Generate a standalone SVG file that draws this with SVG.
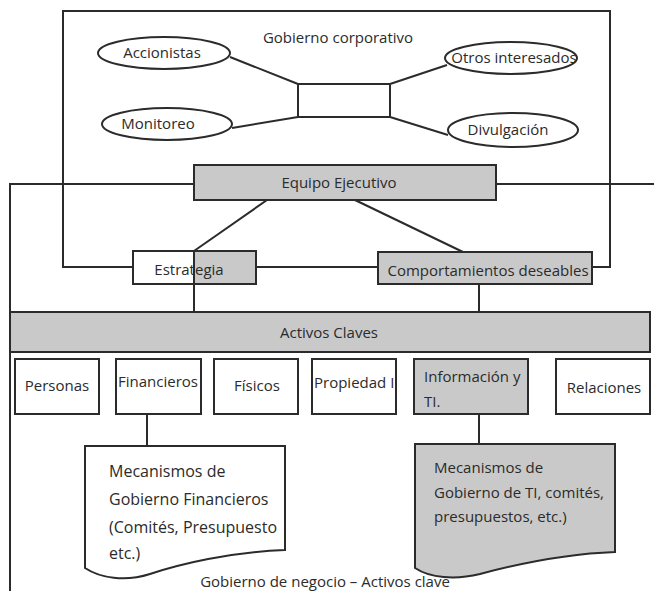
<svg xmlns="http://www.w3.org/2000/svg" width="654" height="591" viewBox="0 0 654 591">
<style>
.ln{fill:none;stroke:#2b2b2b;stroke-width:2}
.bx{fill:#fff;stroke:#2b2b2b;stroke-width:2}
.gb{fill:#c9c9c9;stroke:#2b2b2b;stroke-width:2}
text{font-family:"Open Sans","Liberation Sans",sans-serif;font-size:15px;fill:#2b2b2b}
.c{text-anchor:middle}
.d1{font-size:16px}
</style>
<defs>
<clipPath id="clipDoc1"><rect x="86" y="447" width="197" height="120"/></clipPath>
</defs>
<rect width="654" height="591" fill="#fff"/>
<g id="connectors">
<polyline class="ln" points="133,267 63,267 63,11 610,11 610,267 592,267"/>
<line class="ln" x1="256" y1="267" x2="378" y2="267"/>
<polyline class="ln" points="654,184 10,184 10,591"/>
<line class="ln" x1="230" y1="57" x2="298" y2="84"/>
<line class="ln" x1="232" y1="128" x2="298" y2="117"/>
<line class="ln" x1="447" y1="65" x2="390" y2="84"/>
<line class="ln" x1="448" y1="135" x2="390" y2="117"/>
<line class="ln" x1="267" y1="200" x2="194" y2="251"/>
<line class="ln" x1="355" y1="200" x2="463" y2="252"/>
<line class="ln" x1="479" y1="284" x2="479" y2="312"/>
<line class="ln" x1="147" y1="414" x2="147" y2="446"/>
<line class="ln" x1="479" y1="414" x2="479" y2="444"/>
</g>
<g id="gobierno-corporativo"><text class="c" x="338" y="43">Gobierno corporativo</text></g>
<g id="centro"><rect class="bx" x="298" y="84" width="92" height="33"/></g>
<g id="accionistas"><ellipse class="bx" cx="164" cy="53" rx="66" ry="16"/><text class="c" x="162" y="58">Accionistas</text></g>
<g id="monitoreo"><ellipse class="bx" cx="167" cy="124" rx="65" ry="16"/><text class="c" x="158" y="129">Monitoreo</text></g>
<g id="otros"><ellipse class="bx" cx="511" cy="58" rx="66" ry="16"/><text class="c" x="514" y="63">Otros interesados</text></g>
<g id="divulgacion"><ellipse class="bx" cx="513" cy="130" rx="65" ry="17"/><text class="c" x="508" y="135">Divulgación</text></g>
<g id="equipo"><rect class="gb" x="194" y="165" width="302" height="35"/><text class="c" x="339" y="188">Equipo Ejecutivo</text></g>
<g id="estrategia"><rect class="gb" x="133" y="251" width="123" height="33"/><rect x="134" y="252" width="60" height="31" fill="#ffffff"/><line class="ln" x1="194" y1="251" x2="194" y2="312"/><text class="c" x="189" y="275">Estrategia</text></g>
<g id="comportamientos"><rect class="gb" x="378" y="252" width="214" height="32"/><text class="c" x="488" y="276">Comportamientos deseables</text></g>
<g id="activos"><rect class="gb" x="10" y="312" width="640" height="40"/><text class="c" x="329" y="338">Activos Claves</text></g>
<g id="personas"><rect class="bx" x="15" y="359" width="84" height="55"/><text class="c" x="57" y="391">Personas</text></g>
<g id="financieros"><rect class="bx" x="116" y="359" width="85" height="55"/><text x="118" y="387">Financieros</text></g>
<g id="fisicos"><rect class="bx" x="214" y="359" width="84" height="55"/><text class="c" x="257" y="391">Físicos</text></g>
<g id="propiedad"><rect class="bx" x="312" y="359" width="84" height="55"/><text x="314" y="388">Propiedad I</text></g>
<g id="informacion"><rect class="gb" x="414" y="359" width="114" height="55"/><text x="424" y="382">Información y</text><text x="424" y="407">TI.</text></g>
<g id="relaciones"><rect class="bx" x="556" y="359" width="94" height="55"/><text class="c" x="604" y="393">Relaciones</text></g>
<g id="mec-financieros"><path class="bx" d="M85,446 H285 V550 C230,552 180,564 150,574 C125,582 100,578 85,568 Z"/>
<g clip-path="url(#clipDoc1)"><text class="d1" x="109" y="477">Mecanismos de</text><text class="d1" x="109" y="505">Gobierno Financieros</text><text class="d1" x="109" y="533">(Comités, Presupuesto</text><text class="d1" x="109" y="559">etc.)</text></g></g>
<g id="mec-ti"><path class="gb" d="M415,444 H615 V552 C560,554 510,566 480,574 C455,580 430,578 415,568 Z"/>
<text x="434" y="473">Mecanismos de</text><text x="434" y="498">Gobierno de TI, comités,</text><text x="434" y="522">presupuestos, etc.)</text></g>
<g id="caption"><text class="c" x="325" y="587">Gobierno de negocio – Activos clave</text></g>
</svg>
